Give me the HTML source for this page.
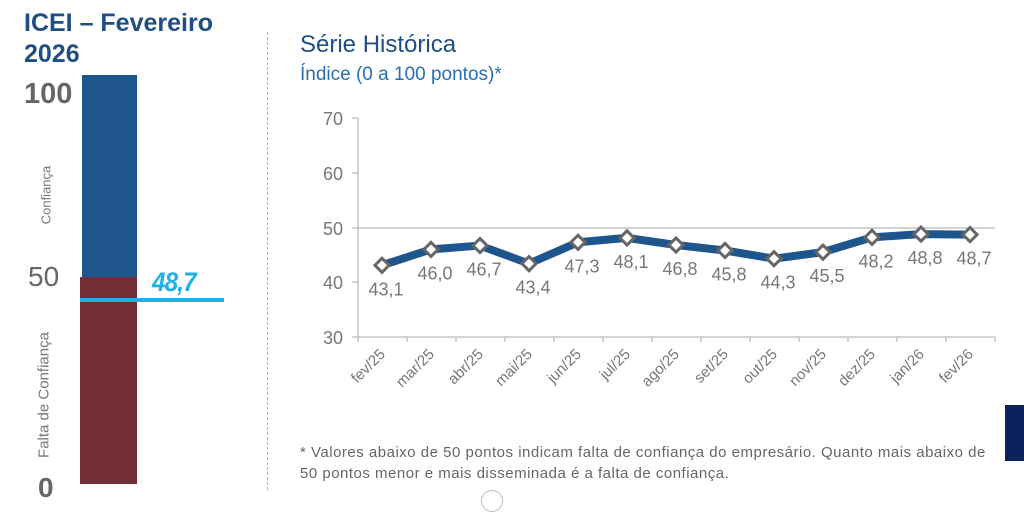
<!DOCTYPE html>
<html><head><meta charset="utf-8"><style>
body{margin:0;width:1024px;height:506px;background:#fff;overflow:hidden;position:relative;font-family:"Liberation Sans",sans-serif}
.a{position:absolute}
</style></head><body>
<div class="a" style="left:24px;top:8px;font-size:25px;font-weight:bold;color:#1f4e84;line-height:31px">ICEI – Fevereiro<br>2026</div>
<div class="a" style="left:82px;top:75px;width:55px;height:202px;background:#1f558d"></div>
<div class="a" style="left:80px;top:277px;width:57px;height:207px;background:#722f37"></div>
<div class="a" style="left:80px;top:298px;width:144px;height:4px;background:#1fb0e6"></div>
<div class="a" style="left:152px;top:267px;font-size:27px;font-weight:bold;font-style:italic;color:#1fb0e6;letter-spacing:-1px;transform:scaleX(0.9);transform-origin:left">48,7</div>
<div class="a" style="left:24px;top:78px;font-size:29px;font-weight:bold;color:#666">100</div>
<div class="a" style="left:28px;top:261px;font-size:28px;color:#666">50</div>
<div class="a" style="left:38px;top:472px;font-size:28px;font-weight:bold;color:#666">0</div>
<div class="a" style="left:46px;top:195px;transform:translate(-50%,-50%) rotate(-90deg);font-size:13px;color:#777;white-space:nowrap">Confiança</div>
<div class="a" style="left:44px;top:395px;transform:translate(-50%,-50%) rotate(-90deg);font-size:15px;color:#777;white-space:nowrap">Falta de Confiança</div>
<div class="a" style="left:267px;top:32px;height:458px;border-left:1px dashed #9bb7d4"></div>
<div class="a" style="left:300px;top:31px;font-size:24px;color:#1f4e84">Série Histórica</div>
<div class="a" style="left:300px;top:64px;font-size:19px;color:#2a6db5">Índice (0 a 100 pontos)*</div>
<div class="a" style="left:1005px;top:405px;width:19px;height:56px;background:#0b2160"></div>
<div class="a" style="left:300px;top:442px;font-size:15px;color:#666;line-height:21px;letter-spacing:0.5px">* Valores abaixo de 50 pontos indicam falta de confiança do empresário. Quanto mais abaixo de<br>50 pontos menor e mais disseminada é a falta de confiança.</div>
<div class="a" style="left:481px;top:490px;width:20px;height:20px;border:1px solid #bbb;border-radius:50%"></div>
<svg class="a" style="left:0;top:0" width="1024" height="506">
<g font-family="Liberation Sans" font-size="18" fill="#777" text-anchor="end">
<text x="343" y="125">70</text><text x="343" y="180">60</text><text x="343" y="235">50</text><text x="343" y="289">40</text><text x="343" y="344">30</text>
</g>
<line x1="358" y1="118" x2="358" y2="337" stroke="#aaa"/>
<line x1="352" y1="118" x2="358" y2="118" stroke="#aaa"/>
<line x1="352" y1="173" x2="358" y2="173" stroke="#aaa"/>
<line x1="352" y1="228" x2="358" y2="228" stroke="#aaa"/>
<line x1="352" y1="282" x2="358" y2="282" stroke="#aaa"/>
<line x1="352" y1="337" x2="358" y2="337" stroke="#aaa"/>
<line x1="358" y1="337" x2="995" y2="337" stroke="#aaa"/>
<line x1="358" y1="228" x2="995" y2="228" stroke="#aaa"/>
<g id="g"></g>
</svg>
<script>
var v=[43.1,46.0,46.7,43.4,47.3,48.1,46.8,45.8,44.3,45.5,48.2,48.8,48.7];
var m=["fev/25","mar/25","abr/25","mai/25","jun/25","jul/25","ago/25","set/25","out/25","nov/25","dez/25","jan/26","fev/26"];
var s='',pts=[];
for(var i=0;i<13;i++){var x=382+i*49,y=337-(v[i]-30)*5.475;pts.push(x+','+y);}
s+='<polyline points="'+pts.join(' ')+'" fill="none" stroke="#1f558d" stroke-width="8" stroke-linejoin="round"/>';
for(var i=0;i<13;i++){var x=382+i*49,y=337-(v[i]-30)*5.475;
s+='<line x1="'+(x-24)+'" y1="337" x2="'+(x-24)+'" y2="342" stroke="#aaa"/>';
s+='<rect x="'+(x-5)+'" y="'+(y-5)+'" width="10" height="10" transform="rotate(45 '+x+' '+y+')" fill="#fff" stroke="#666" stroke-width="3"/>';
var ly=y+30;
s+='<text x="'+(x+4)+'" y="'+ly+'" font-family="Liberation Sans" font-size="18" fill="#777" text-anchor="middle">'+v[i].toFixed(1).replace('.',',')+'</text>';
s+='<text transform="translate('+(x+4)+',355) rotate(-45)" font-family="Liberation Sans" font-size="15" fill="#777" text-anchor="end">'+m[i]+'</text>';}
s+='<line x1="995" y1="337" x2="995" y2="342" stroke="#aaa"/>';
document.getElementById('g').innerHTML=s;
</script>
</body></html>
